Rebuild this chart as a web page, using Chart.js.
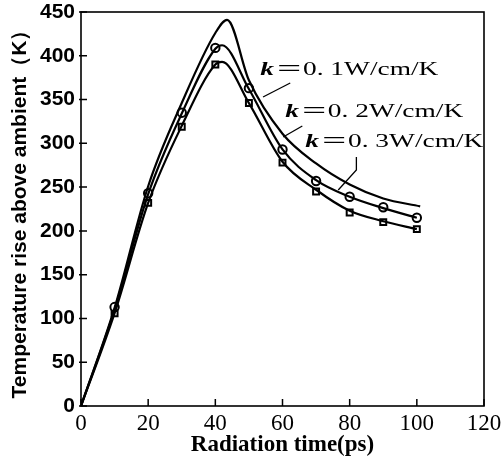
<!DOCTYPE html>
<html>
<head>
<meta charset="utf-8">
<script src="https://cdn.jsdelivr.net/npm/chart.js@4/dist/chart.umd.min.js"></script>
<style>
  html, body { margin: 0; padding: 0; background: #fff; }
  #wrap { width: 502px; height: 462px; }
</style>
</head>
<body>
<div id="wrap"><canvas id="chart"></canvas></div>
<script>
// curves
const k1X = [0, 10, 20, 30, 40, 43.5, 50, 60, 70, 80, 90, 101];
const k1Y = [0, 112, 251, 346, 426, 441, 372, 311, 277, 253, 237, 228];
const k2X = [0, 10, 20, 30, 40, 42, 50, 60, 70, 80, 90, 100];
const k2Y = [0, 110, 242, 334, 408, 412, 362, 293, 258, 239, 226, 215];
const k3X = [0, 10, 20, 30, 40, 42, 50, 60, 70, 80, 90, 100];
const k3Y = [0, 106, 232, 320, 390, 393, 346, 279, 247, 223, 211, 202];

// measured points (circles / squares)
const markX = [10, 20, 30, 40, 50, 60, 70, 80, 90, 100];
const circleY = [113, 243, 335, 409, 363, 293, 257, 239, 227, 215];
const squareY = [106, 232, 319, 390, 346, 278, 245, 221, 210, 202];

const xTicks = [0, 20, 40, 60, 80, 100, 120];
const yTicks = [0, 50, 100, 150, 200, 250, 300, 350, 400, 450];
const curveNames = ['0. 1W/cm/K', '0. 2W/cm/K', '0. 3W/cm/K'];

function pts(xs, ys) {
  return xs.map((x, i) => ({ x: x, y: ys[i] }));
}

// label placement (data coords) and leader lines
const notes = [
  { x: 53.4, y: 383.7, lead: [[62.3, 368.9], [54.2, 352.9]] },
  { x: 60.8, y: 335.8, lead: [[65.9, 319.8], [60.2, 307.2]] },
  { x: 66.8, y: 301.5, lead: [[82.0, 284.4], [82.0, 269.5], [76.6, 246.7]] }
];
const noteWidth = 178;

const framePlugin = {
  id: 'frame',
  afterDraw(chart) {
    const ctx = chart.ctx;
    const a = chart.chartArea;
    const xs = chart.scales.x, ys = chart.scales.y;
    ctx.save();
    ctx.strokeStyle = '#000';
    ctx.lineWidth = 1.6;
    ctx.strokeRect(a.left, a.top, a.right - a.left, a.bottom - a.top);

    // inward ticks
    ctx.lineWidth = 1.5;
    ctx.beginPath();
    yTicks.forEach(v => {
      const py = ys.getPixelForValue(v);
      ctx.moveTo(a.left - 2, py);
      ctx.lineTo(a.left + 6, py);
    });
    xTicks.forEach(v => {
      const px = xs.getPixelForValue(v);
      ctx.moveTo(px, a.bottom);
      ctx.lineTo(px, a.bottom - 7);
    });
    ctx.stroke();

    // curve labels
    notes.forEach((n, i) => {
      const px = xs.getPixelForValue(n.x);
      const py = ys.getPixelForValue(n.y);
      ctx.font = 'bold italic 18px "Liberation Serif"';
      const kw = ctx.measureText('k').width;
      ctx.font = '18px "Liberation Serif", "Noto Sans CJK SC"';
      const rest = '＝' + curveNames[i];
      const w = kw + 1 + ctx.measureText(rest).width;
      ctx.save();
      ctx.translate(px, py);
      ctx.scale(noteWidth / w, 1);
      ctx.fillStyle = '#000';
      ctx.textBaseline = 'middle';
      ctx.fillText(rest, kw + 1, 0);
      ctx.font = 'bold italic 18px "Liberation Serif"';
      ctx.fillText('k', 0, 0);
      ctx.restore();

      ctx.beginPath();
      ctx.lineWidth = 1.3;
      n.lead.forEach((p, j) => {
        const lx = xs.getPixelForValue(p[0]);
        const ly = ys.getPixelForValue(p[1]);
        if (j === 0) ctx.moveTo(lx, ly); else ctx.lineTo(lx, ly);
      });
      ctx.stroke();
    });
    ctx.restore();
  }
};

const lineStyle = {
  borderColor: '#000',
  borderWidth: 2.2,
  pointRadius: 0,
  cubicInterpolationMode: 'monotone',
  fill: false
};

new Chart(document.getElementById('chart'), {
  type: 'line',
  data: {
    datasets: [
      Object.assign({ label: 'k=0.1', data: pts(k1X, k1Y) }, lineStyle),
      Object.assign({ label: 'k=0.2', data: pts(k2X, k2Y) }, lineStyle),
      Object.assign({ label: 'k=0.3', data: pts(k3X, k3Y) }, lineStyle),
      {
        label: 'circles', data: pts(markX, circleY), showLine: false,
        pointStyle: 'circle', pointRadius: 4.2, pointBorderWidth: 2,
        pointBackgroundColor: '#fff', pointBorderColor: '#000'
      },
      {
        label: 'squares', data: pts(markX, squareY), showLine: false,
        pointStyle: 'rect', pointRadius: 4.2, pointBorderWidth: 2,
        pointBackgroundColor: '#fff', pointBorderColor: '#000'
      }
    ]
  },
  options: {
    responsive: true,
    maintainAspectRatio: false,
    animation: false,
    layout: { padding: { top: 12, right: 18, left: 0, bottom: 0 } },
    plugins: {
      legend: { display: false },
      tooltip: { enabled: false }
    },
    scales: {
      x: {
        type: 'linear',
        min: 0, max: 120,
        afterBuildTicks: s => { s.ticks = xTicks.map(v => ({ value: v })); },
        afterFit: s => { s.height = 56; s.paddingLeft = 0; s.paddingRight = 0; },
        grid: { display: false, drawTicks: false },
        border: { display: false },
        ticks: {
          color: '#000', padding: 4, maxRotation: 0,
          font: { family: '"Liberation Serif"', size: 23 }
        },
        title: {
          display: true, text: 'Radiation time(ps)', color: '#000',
          padding: { top: 0, bottom: 3 },
          font: { family: '"Liberation Serif"', size: 23, weight: 'bold' }
        }
      },
      y: {
        type: 'linear',
        min: 0, max: 450,
        afterBuildTicks: s => { s.ticks = yTicks.map(v => ({ value: v })); },
        afterFit: s => { s.width = 81; s.paddingTop = 0; s.paddingBottom = 0; },
        grid: { display: false, drawTicks: false },
        border: { display: false },
        ticks: {
          color: '#000', padding: 6,
          font: { family: '"Liberation Sans"', size: 21, weight: 'bold' }
        },
        title: {
          display: true, text: 'Temperature rise above ambient（K）', color: '#000',
          padding: { top: 8, bottom: 0 },
          font: { family: '"Liberation Sans"', size: 21, weight: 'bold' }
        }
      }
    }
  },
  plugins: [framePlugin]
});
</script>
</body>
</html>
